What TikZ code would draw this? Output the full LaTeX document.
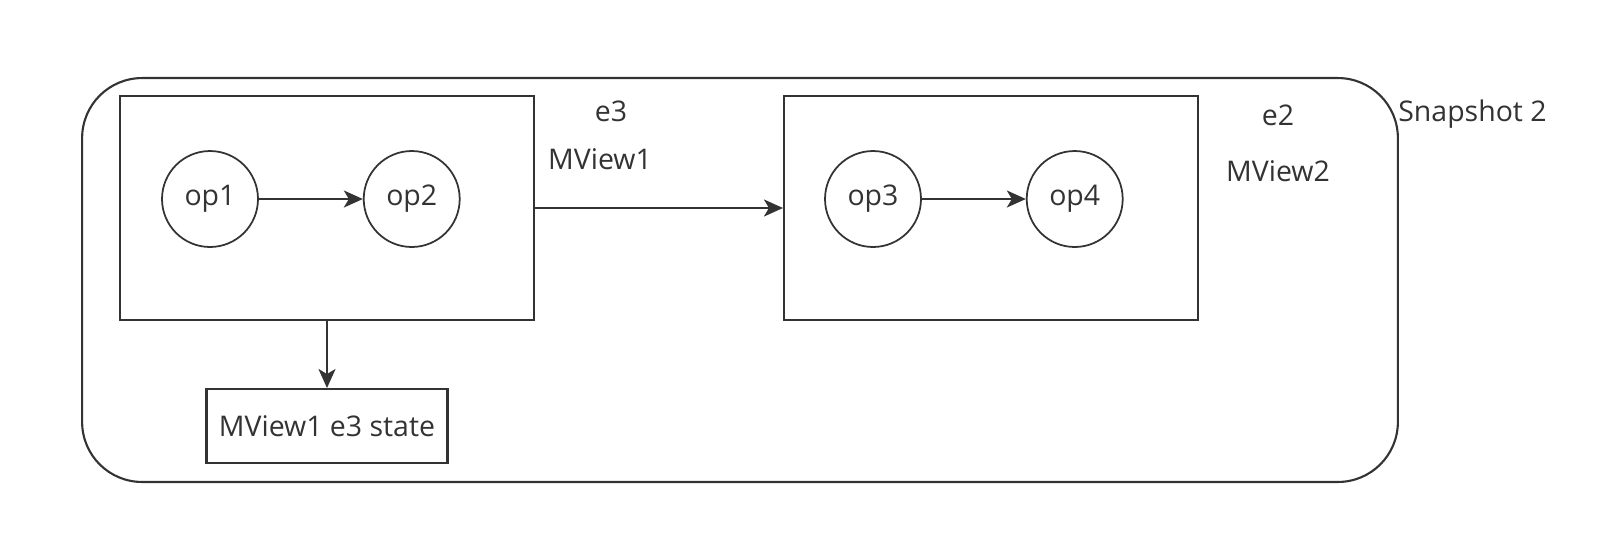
\documentclass[tikz,border=0pt]{standalone}
\usepackage{fontspec}
\setmainfont{Open Sans}
\usepackage{tikz}
\usetikzlibrary{arrows.meta,positioning}
\definecolor{ink}{HTML}{333333}

\begin{document}
\begin{tikzpicture}[
    x=0.02cm, y=-0.02cm,
    font=\fontsize{16.2}{19}\selectfont, text=ink,
    engine/.style={rectangle, draw=ink, line width=1.2pt, minimum width=8.28cm,
                   minimum height=4.48cm, inner sep=0pt},
    opnode/.style={circle, draw=ink, line width=1pt, minimum size=1.92cm, inner sep=0pt},
    statebox/.style={rectangle, draw=ink, line width=1.2pt, minimum width=4.82cm,
                     minimum height=1.48cm, inner sep=0pt},
    snapbox/.style={rectangle, draw=ink, line width=1.2pt, rounded corners=1.2cm,
                    minimum width=26.32cm, minimum height=8.08cm},
    tag/.style={inner sep=0pt},
    arrow/.style={-{Stealth[length=0.38cm, width=0.34cm, inset=0.1cm]}, line width=1.2pt, draw=ink}
]
    \useasboundingbox (0,0) rectangle (1602,542);

    % Snapshot (outer)
    \node[snapbox] (snap) at (740,280) {};
    \node[tag, anchor=base west] (snaplabel) at (1398,121) {Snapshot 2};

    % MView1 (left)
    \node[engine] (mview1) at (327,208) {};
    \node[opnode] (op1) at (210,199) {op1};
    \node[opnode, right=2.08cm of op1] (op2) {op2};
    \node[tag, anchor=base] (e3) at (611,121) {e3};
    \node[tag, anchor=base] (mv1label) at (600,169) {MView1};

    % MView2 (right)
    \node[engine, right=4.96cm of mview1] (mview2) {};
    \node[opnode] (op3) at (873,199) {op3};
    \node[opnode, right=2.08cm of op3] (op4) {op4};
    \node[tag, anchor=base] (e2) at (1278,125) {e2};
    \node[tag, anchor=base] (mv2label) at (1278,181) {MView2};

    % State (bottom)
    \node[statebox, below=1.34cm of mview1] (state) {MView1 e3 state};

    % Arrows
    \draw[arrow] (op1) -- (op2);
    \draw[arrow] (op3) -- (op4);
    \draw[arrow] (mview1) -- (mview2);
    \draw[arrow] (mview1) -- (state);
\end{tikzpicture}
\end{document}
